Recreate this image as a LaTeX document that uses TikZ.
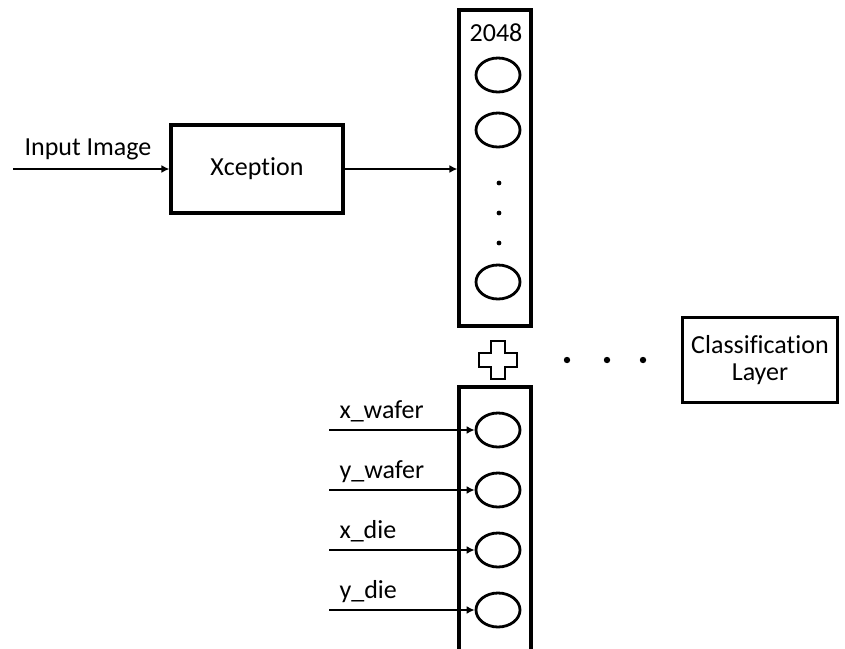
\documentclass[tikz,border=0pt]{standalone}
\usepackage{fontspec}
\setmainfont{Carlito}[Ligatures=NoCommon]
\usetikzlibrary{shapes.geometric,arrows.meta}

\tikzset{
  unit/.style={ellipse,draw,line width=2.8pt,minimum width=44pt,minimum height=34pt,inner sep=0pt},
  block/.style={draw,line width=3.2pt,inner sep=0pt},
  feed/.style={-{Latex[length=8pt,width=8pt]},line width=2.8pt},
}

\begin{document}
\begin{tikzpicture}[x=1pt,y=-1pt,font=\fontsize{26}{27}\selectfont]
\useasboundingbox (0,0) rectangle (845,648);

% feature extractor
\node[block,minimum width=172pt,minimum height=88pt] (xcep) at (257,169) {Xception};
\coordinate (in) at (13,169);
\draw[feed] (in) -- (xcep.west);
\node[anchor=base] (inlbl) at (88,155) {Input Image};

% image features
\node[block,minimum width=72pt,minimum height=316pt] (feat) at (495,168) {};
\node (n2048) at (496,33) {2048};
\node[unit] (f1) at (498,75) {};
\node[unit] (f2) at (498,130) {};
\node[unit] (f3) at (498,282) {};
\foreach \y in {183,213,243}
  \fill (499,\y) circle (2.4);
\draw[feed] (xcep.east) -- (xcep.east -| feat.west);

% concatenation
\draw[line width=2.8pt,shift={(498,360)}]
  (-7,-19) -- (7,-19) -- (7,-7) -- (19,-7) -- (19,7) -- (7,7) -- (7,19)
  -- (-7,19) -- (-7,7) -- (-19,7) -- (-19,-7) -- (-7,-7) -- cycle;
\foreach \x in {567,607,643}
  \fill (\x,360) circle (3.2);
\node[block,minimum width=155pt,minimum height=85pt,align=center] (cls) at (760,360) {Classification\\Layer};

% wafer features
\node[block,minimum width=72pt,minimum height=300pt] (pos) at (495,537) {};
\foreach \y/\lab [count=\i] in {430/x\_wafer,490/y\_wafer,550/x\_die,610/y\_die} {
  \node[unit] (c\i) at (498,\y) {};
  \coordinate (s\i) at (329,\y);
  \draw[feed] (s\i) -- (c\i);
  \node[anchor=base west] (l\i) at (336,\y-12) {\lab};
}
\end{tikzpicture}
\end{document}
